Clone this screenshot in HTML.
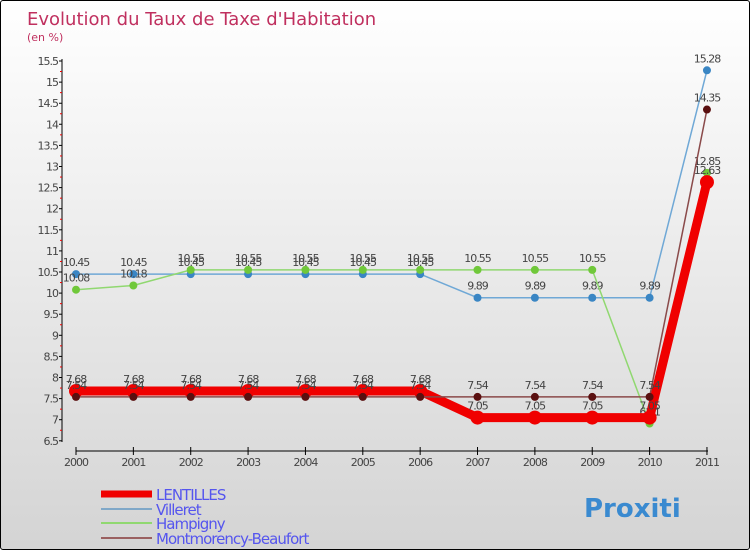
<!DOCTYPE html>
<html><head><meta charset="utf-8"><style>
body{margin:0}
#c{width:748px;height:548px;border:1px solid #000;border-radius:3px;background:linear-gradient(#fff,#d4d4d4);position:relative;overflow:hidden;font-family:"DejaVu Sans","Liberation Sans",sans-serif}
</style></head><body>
<div id="c">
<svg id="s" width="748" height="548" style="position:absolute;left:0;top:0"></svg>
</div>
<script>
const years=["2000","2001","2002","2003","2004","2005","2006","2007","2008","2009","2010","2011"];
const lentilles=[7.68,7.68,7.68,7.68,7.68,7.68,7.68,7.05,7.05,7.05,7.05,12.63];
const villeret=[10.45,10.45,10.45,10.45,10.45,10.45,10.45,9.89,9.89,9.89,9.89,15.28];
const hampigny=[10.08,10.18,10.55,10.55,10.55,10.55,10.55,10.55,10.55,10.55,6.91,12.85];
const montmorency=[7.54,7.54,7.54,7.54,7.54,7.54,7.54,7.54,7.54,7.54,7.54,14.35];
const yTicks=[6.5,7,7.5,8,8.5,9,9.5,10,10.5,11,11.5,12,12.5,13,13.5,14,14.5,15,15.5];
const s=document.getElementById('s');const NS="http://www.w3.org/2000/svg";
function X(i){return 75+i*57.36}
function Y(v){return 60+(15.5-v)*42.2}
function el(t,a,p){const e=document.createElementNS(NS,t);for(const k in a)e.setAttribute(k,a[k]);(p||s).appendChild(e);return e}
let t=el('text',{x:26,y:24,fill:'#c0305f','font-size':18});t.textContent="Evolution du Taux de Taxe d'Habitation";

t=el('text',{x:26,y:40,fill:'#c0305f','font-size':11});t.textContent="(en %)";

let a=el('line',{x1:61,y1:58,x2:61,y2:441,stroke:'#000'});

yTicks.forEach((v,i)=>{el('line',{x1:58,x2:61,y1:Y(v),y2:Y(v),stroke:'#000'});
if(i<yTicks.length-1)el('line',{x1:59,x2:61,y1:Y(v+0.25),y2:Y(v+0.25),stroke:'#e00'});
const l=el('text',{x:57,y:Y(v)+4,'text-anchor':'end','font-size':11,fill:'#444','letter-spacing':'-1'});l.textContent=v;
});
a=el('line',{x1:75,y1:450,x2:707,y2:450,stroke:'#000'});

years.forEach((y,i)=>{el('line',{x1:X(i),x2:X(i),y1:446,y2:454,stroke:'#000'});
const l=el('text',{x:X(i),y:465,'text-anchor':'middle','font-size':11,fill:'#444','letter-spacing':'-1'});l.textContent=y;
});
function series(d,col,w,r,dot,name){
const p=el('polyline',{points:d.map((v,i)=>X(i)+','+Y(v)).join(' '),fill:'none',stroke:col,'stroke-width':w});

d.forEach((v,i)=>{const c=el('circle',{cx:X(i),cy:Y(v),r:r,fill:dot});

const l=el('text',{x:X(i),y:Y(v)-8,'text-anchor':'middle','font-size':11,fill:'#444','letter-spacing':'-1'});l.textContent=v;
});}
series(villeret,'#6fa8d6',1.5,4,'#3a86c4','villeret');
series(hampigny,'#90d870',1.5,4,'#70c83a','hampigny');
series(lentilles,'#f00000',9,7,'#f00000','lentilles');
series(montmorency,'#8a4a4a',1.5,4,'#5a1010','montmorency');
const leg=[["LENTILLES","#f00000",7],["Villeret","#80a8c8",2],["Hampigny","#90d870",2],["Montmorency-Beaufort","#9a6060",2]];
const ly=[493,508,522,537];
leg.forEach((g,i)=>{const r=el('rect',{x:100,y:ly[i]-g[2]/2,width:51,height:g[2],fill:g[1]});

const l=el('text',{x:155,y:ly[i]+6,'font-size':15,fill:'#5555ee','letter-spacing':'-1'});l.textContent=g[0];
});
const lg=el('text',{x:583,y:516,'font-size':26,'font-weight':'bold',fill:'#3a8ad0'});lg.textContent="Proxiti";

</script>
</body></html>
